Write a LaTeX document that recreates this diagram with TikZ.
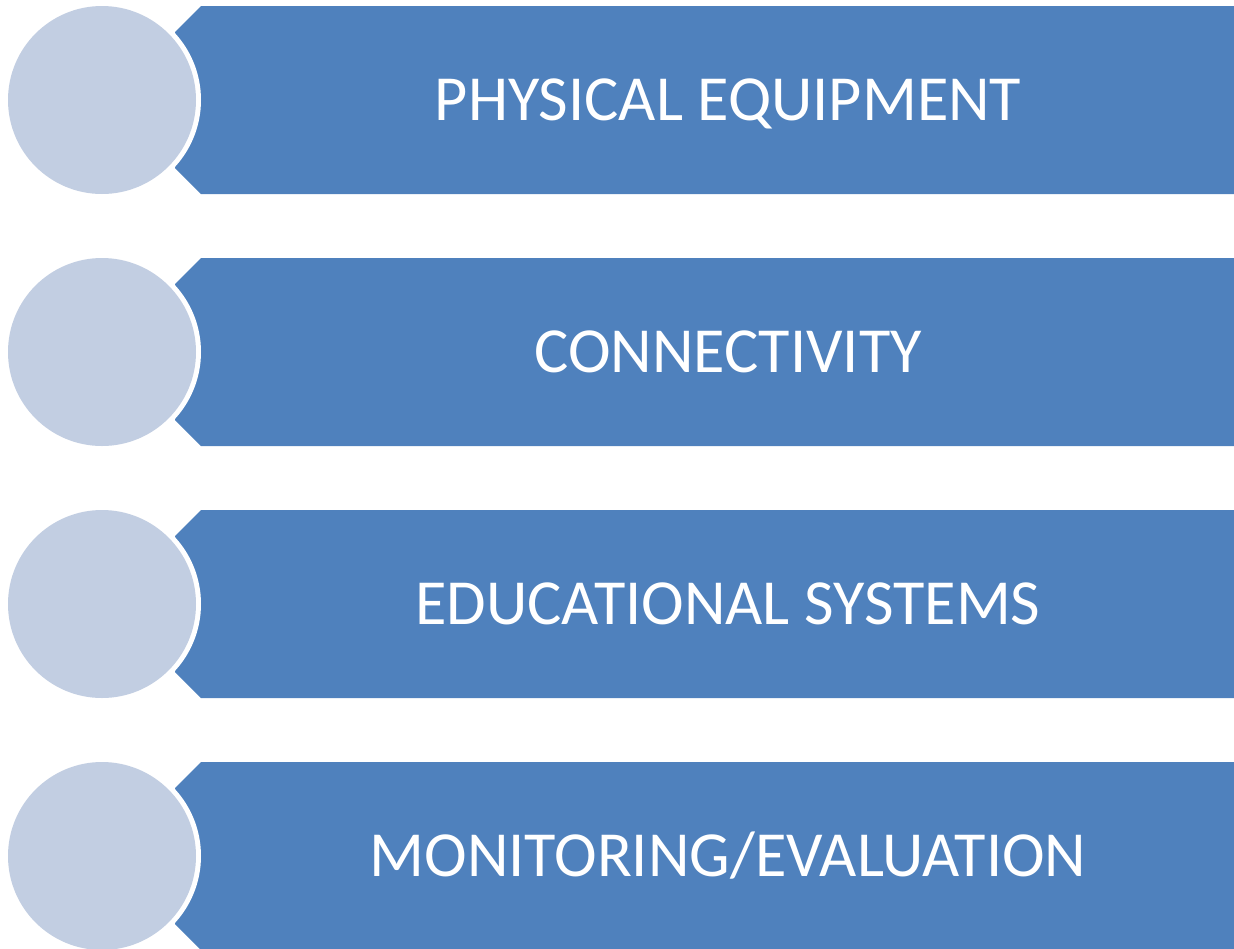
\documentclass[tikz,border=0pt]{standalone}
\usepackage{fontspec}
\setmainfont{Carlito}
\definecolor{bannerblue}{RGB}{79,129,189}
\definecolor{circlefill}{RGB}{194,206,226}
\tikzset{
  banner/.style={fill=bannerblue, draw=none},
  bullet/.style={circle, fill=circlefill, draw=none, minimum size=188pt, inner sep=0pt},
  label/.style={text=white, font=\fontsize{64.3}{78}\selectfont, anchor=base, inner sep=0pt}
}
\begin{document}
\begin{tikzpicture}[x=1pt,y=-1pt]
\useasboundingbox (0,0) rectangle (1234,948);
\foreach \i/\txt in {0/{PHYSICAL EQUIPMENT},1/{CONNECTIVITY},2/{EDUCATIONAL SYSTEMS},3/{MONITORING/EVALUATION}}{
  \pgfmathsetmacro{\top}{6+252*\i}
  \pgfmathsetmacro{\bot}{\top+188}
  \pgfmathsetmacro{\mid}{\top+94}
  \fill[banner] (201,\top) -- (1240,\top) -- (1240,\bot) -- (201,\bot) -- (175,\bot-26) -- (175,\top+26) -- cycle;
  \fill[white] (102,\mid) circle[radius=99];
  \node[bullet] (c\i) at (102,\mid) {};
  \node[label] (t\i) at (728,\mid+20) {\txt};
}
\end{tikzpicture}
\end{document}
